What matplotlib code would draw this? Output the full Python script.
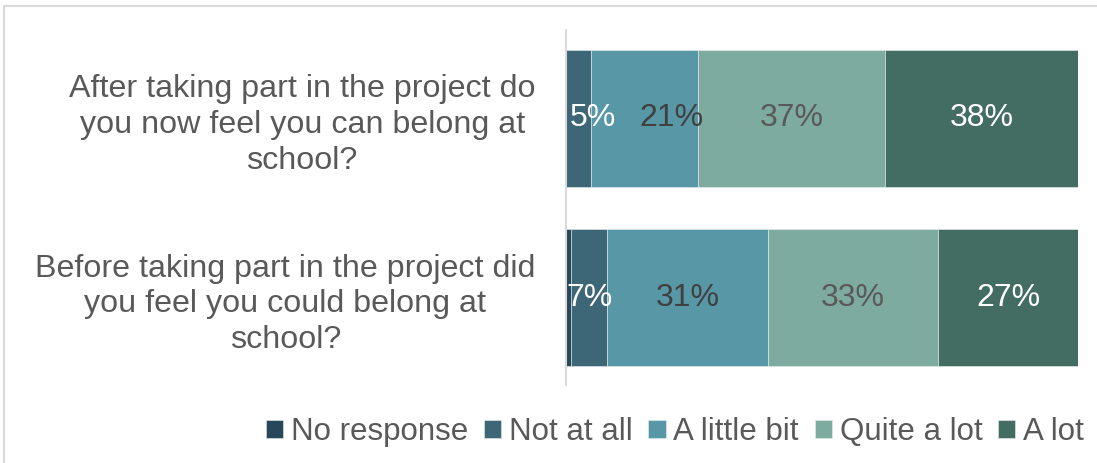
import matplotlib.pyplot as plt
from matplotlib.patches import Rectangle
import numpy as np

plt.rcParams['font.family'] = ['Liberation Sans', 'DejaVu Sans']

# Survey questions (bottom to top)
questions = [
    "Before taking part in the project did\nyou feel you could belong at\nschool?",
    "After taking part in the project do\nyou now feel you can belong at\nschool?",
]
responses = ["No response", "Not at all", "A little bit", "Quite a lot", "A lot"]

# Percentages per response, one list per question (bottom to top)
no_response = [1, 0]
not_at_all = [7, 5]
a_little_bit = [31, 21]
quite_a_lot = [33, 37]
a_lot = [27, 38]

colors = ["#27485A", "#3D6676", "#5897A6", "#7EAB9F", "#436C62"]
label_colors = [None, "white", "#404040", "#595959", "white"]

series = [no_response, not_at_all, a_little_bit, quite_a_lot, a_lot]
values = np.array(series, dtype=float)
shares = values / values.sum(axis=0) * 100  # 100% stacked

fig = plt.figure(figsize=(10.97, 4.63), dpi=100)
fig.patch.set_facecolor("white")

# Outer chart frame
fig.patches.append(Rectangle((4 / 1097, -0.05), 1.2, 1 - 6 / 463 + 0.05,
                             transform=fig.transFigure, fill=False,
                             edgecolor="#D9D9D9", linewidth=1.5))

ax = fig.add_axes([566 / 1097, 1 - 385 / 463, (1078 - 566) / 1097, 355 / 463])

y = np.arange(len(questions))
left = np.zeros(len(questions))
bar_h = 0.763
# manual nudges (points) for crowded labels, keyed by (series, row)
nudges = {(1, 1): 10, (2, 1): 19}
for i, (name, col) in enumerate(zip(responses, colors)):
    w = shares[i]
    ax.barh(y, w, left=left, height=bar_h, color=col, label=name,
            edgecolor="#E8EEEE", linewidth=0.4)
    if label_colors[i] is not None:
        for j in range(len(questions)):
            if values[i, j] > 0:
                ax.annotate(f"{int(values[i, j])}%",
                            xy=(left[j] + w[j] / 2, y[j]),
                            xytext=(nudges.get((i, j), 0), 0),
                            textcoords="offset points",
                            ha="center", va="center", fontsize=23,
                            color=label_colors[i])
    left += w

ax.set_xlim(0, 100)
ax.set_ylim(-0.485, 1.493)
ax.set_yticks(y)
ax.set_yticklabels(questions, fontsize=23.2, color="#595959",
                   multialignment="center", linespacing=1.25)
ax.tick_params(axis="y", length=0, pad=22)
ax.set_xticks([])
for s in ["top", "right", "bottom"]:
    ax.spines[s].set_visible(False)
ax.spines["left"].set_color("#D9D9D9")
ax.spines["left"].set_linewidth(1.5)

leg = fig.legend(loc="center", bbox_to_anchor=(675 / 1097, 1 - 432 / 463),
                 ncol=5, frameon=False, fontsize=22.5, handlelength=0.55,
                 handleheight=0.55, handletextpad=0.25, columnspacing=0.5,
                 labelcolor="#595959")

fig.savefig("out.png", dpi=100, facecolor="white")
